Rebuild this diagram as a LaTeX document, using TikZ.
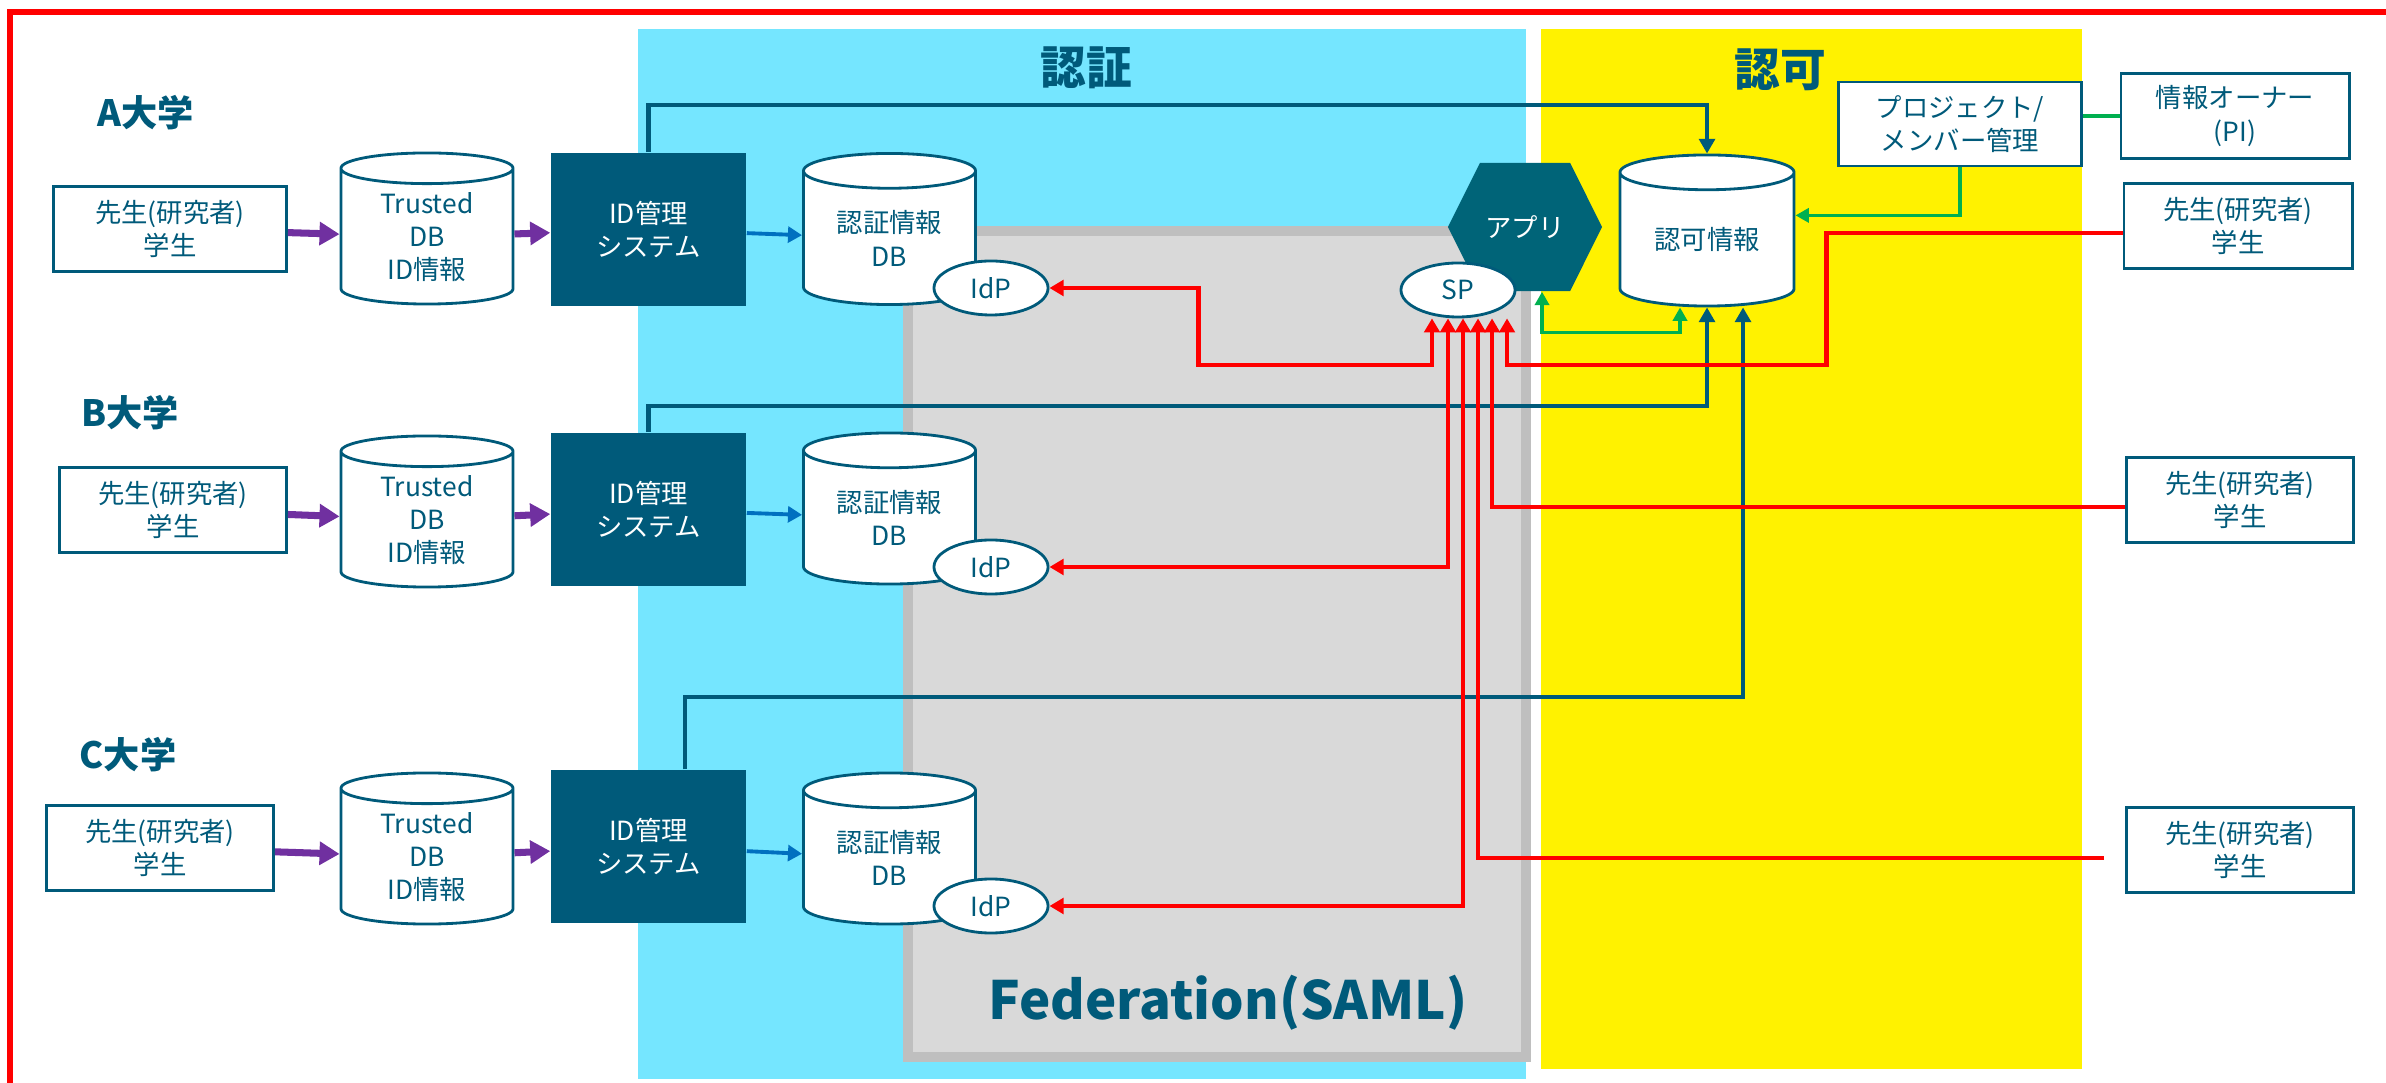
\documentclass[tikz,border=0pt]{standalone}
\usepackage{fontspec}
\setmainfont{Noto Sans CJK JP}
\usetikzlibrary{shapes.geometric,shapes.symbols,arrows.meta}

\definecolor{tealc}{RGB}{0,90,122}
\definecolor{appc}{RGB}{0,100,120}
\definecolor{skyc}{RGB}{117,230,255}
\definecolor{fedfill}{RGB}{217,217,217}
\definecolor{fedline}{RGB}{191,191,191}
\definecolor{purp}{RGB}{112,48,160}
\definecolor{bluec}{RGB}{0,112,192}
\definecolor{greenc}{RGB}{0,176,80}

\newcommand\boxfnt{\fontsize{7.5pt}{9.4pt}\selectfont}
\newcommand\unifnt{\fontsize{10.3pt}{12pt}\selectfont\bfseries}
\newcommand\areafnt{\fontsize{13pt}{15pt}\selectfont\bfseries}
\newcommand\fedfnt{\fontsize{15pt}{18pt}\selectfont\bfseries}

\tikzset{
  person/.style={draw=tealc, line width=0.8pt, fill=white, text=tealc, font=\boxfnt,
    align=center, minimum width=2.27cm, minimum height=0.85cm, inner sep=0pt},
  dbase/.style={cylinder, shape border rotate=90, aspect=0.33, draw=tealc, line width=0.8pt,
    fill=white, text=tealc, font=\boxfnt, align=center, minimum width=1.72cm,
    minimum height=1.51cm, inner sep=0pt, anchor=shape center},
  idsys/.style={fill=tealc, text=white, font=\boxfnt, align=center,
    minimum width=1.95cm, minimum height=1.53cm, inner sep=0pt},
  fedport/.style={ellipse, draw=tealc, line width=0.8pt, fill=white, text=tealc,
    font=\boxfnt, minimum width=1.14cm, minimum height=0.54cm, inner sep=0pt},
  unititle/.style={text=tealc, font=\unifnt},
  areatitle/.style={text=tealc, font=\areafnt},
  idlink/.style={tealc, line width=1.2pt, -{Triangle[length=4.2pt,width=4.5pt]}},
  grantlink/.style={greenc, line width=1pt, -{Triangle[length=3.8pt,width=4pt]}},
  fedlink/.style={red, line width=1.2pt,
    {Triangle[length=4pt,width=4.4pt]}-{Triangle[length=4pt,width=4.4pt]}},
  userlink/.style={red, line width=1.2pt, -{Triangle[length=4pt,width=4.4pt]}}
}

\begin{document}
\begin{tikzpicture}[x=0.01cm, y=-0.01cm]
  \useasboundingbox (0,0) rectangle (2386,1083);

  % areas
  \fill[skyc] (638,29) rectangle (1526,1079);
  \fill[yellow] (1541,29) rectangle (2082,1069);
  \draw[fedline, fill=fedfill, line width=0.1cm] (908,231) rectangle (1526,1057);
  \draw[red, line width=1.7pt] (10,1100) -- (10,12) -- (2400,12);

  \node[areatitle] (labAuthn) at (1086,68) {認証};
  \node[areatitle] (labAuthz) at (1780,70) {認可};
  \node[text=tealc, font=\fedfnt] (labFed) at (1228,1003) {Federation(SAML)};

  \node[unititle] (uniA) at (146,113) {A大学};
  \node[unititle] (uniB) at (130,413) {B大学};
  \node[unititle] (uniC) at (128,755) {C大学};

  \begin{scope}[every node/.style={person}]
    \node[minimum width=2.33cm] (pA) at (170,229) {先生(研究者)\\学生};
    \node (pB) at (173,510) {先生(研究者)\\学生};
    \node (pC) at (160,848) {先生(研究者)\\学生};
    \node[minimum width=2.28cm] (rA) at (2238,226) {先生(研究者)\\学生};
    \node (rB) at (2240,500) {先生(研究者)\\学生};
    \node (rC) at (2240,850) {先生(研究者)\\学生};
    \node[minimum width=2.43cm, minimum height=0.84cm] (proj) at (1960,124) {プロジェクト/\\メンバー管理};
    \node[minimum width=2.28cm] (owner) at (2235,116) {情報オーナー\\(PI)};
  \end{scope}

  \begin{scope}[every node/.style={dbase}]
    \node (tA) at (427,228.5) {Trusted\\DB\\ID情報};
    \node (tB) at (427,511.5) {Trusted\\DB\\ID情報};
    \node (tC) at (427,848.5) {Trusted\\DB\\ID情報};
    \node (dA) at (889.5,229) {認証情報\\DB};
    \node (dB) at (889.5,508.5) {認証情報\\DB};
    \node (dC) at (889.5,848.5) {認証情報\\DB};
    \node[minimum width=1.74cm] (azdb) at (1707,230.5) {認可情報};
  \end{scope}

  \begin{scope}[every node/.style={idsys}]
    \node (iA) at (648.5,229.5) {ID管理\\システム};
    \node (iB) at (648.5,509.5) {ID管理\\システム};
    \node (iC) at (648.5,846.5) {ID管理\\システム};
  \end{scope}

  \node[signal, signal to=west and east, signal pointer angle=127, fill=appc, text=white,
    font=\boxfnt, minimum width=1.54cm, minimum height=1.28cm, inner sep=0pt] (app) at (1525,227) {アプリ};

  \begin{scope}[every node/.style={fedport}]
    \node (eA) at (991,288) {IdP};
    \node (eB) at (991,567) {IdP};
    \node (eC) at (991,906) {IdP};
    \node (sp) at (1458,290) {SP};
  \end{scope}

  \begin{scope}[every edge/.style={draw=purp, line width=2pt, -{Triangle[length=5.7pt,width=6.4pt]}}]
    \path (pA) edge (tA);
    \path (tA) edge (iA);
    \path (pB) edge (tB);
    \path (tB) edge (iB);
    \path (pC) edge (tC);
    \path (tC) edge (iC);
  \end{scope}

  \begin{scope}[every edge/.style={draw=bluec, line width=1.1pt, -{Triangle[length=4pt,width=4.5pt]}}]
    \path (iA) edge (dA);
    \path (iB) edge (dB);
    \path (iC) edge (dC);
  \end{scope}

  % ID -> authz
  \draw[idlink] (iA.north) -- ++(0,-47) -| (azdb.north);
  \draw[idlink] (iB.north) -- ++(0,-26) -| (azdb.south);
  \draw[idlink] ([xshift=0.365cm]iC.north) -- ++(0,-72) -| ([xshift=0.36cm]azdb.south);

  % authz
  \draw[grantlink, {Triangle[length=3.8pt,width=4pt]}-{Triangle[length=3.8pt,width=4pt]}]
    ([xshift=0.17cm]app.south) -- ++(0,41) -| ([xshift=-0.27cm]azdb.south);
  \draw[grantlink] (proj.south) |- ([yshift=0.245cm]azdb.east);
  \draw[greenc, line width=1pt] (owner.west) -- (owner.west -| proj.east);

  % SAML
  \draw[fedlink] (eA.east) -- ++(149,0) -- ++(0,77) -| ([xshift=-0.26cm]sp.south);
  \draw[fedlink] (eB.east) -| ([xshift=-0.1cm]sp.south);
  \draw[fedlink] (eC.east) -| ([xshift=0.05cm]sp.south);
  \draw[userlink] ([yshift=-0.07cm]rA.west) -- ++(-296,0) -- ++(0,132) -| ([xshift=0.49cm]sp.south);
  \draw[userlink] ([yshift=-0.07cm]rB.west) -| ([xshift=0.34cm]sp.south);
  \draw[userlink] ([xshift=-0.21cm,yshift=-0.08cm]rC.west) -| ([xshift=0.2cm]sp.south);

\end{tikzpicture}
\end{document}
